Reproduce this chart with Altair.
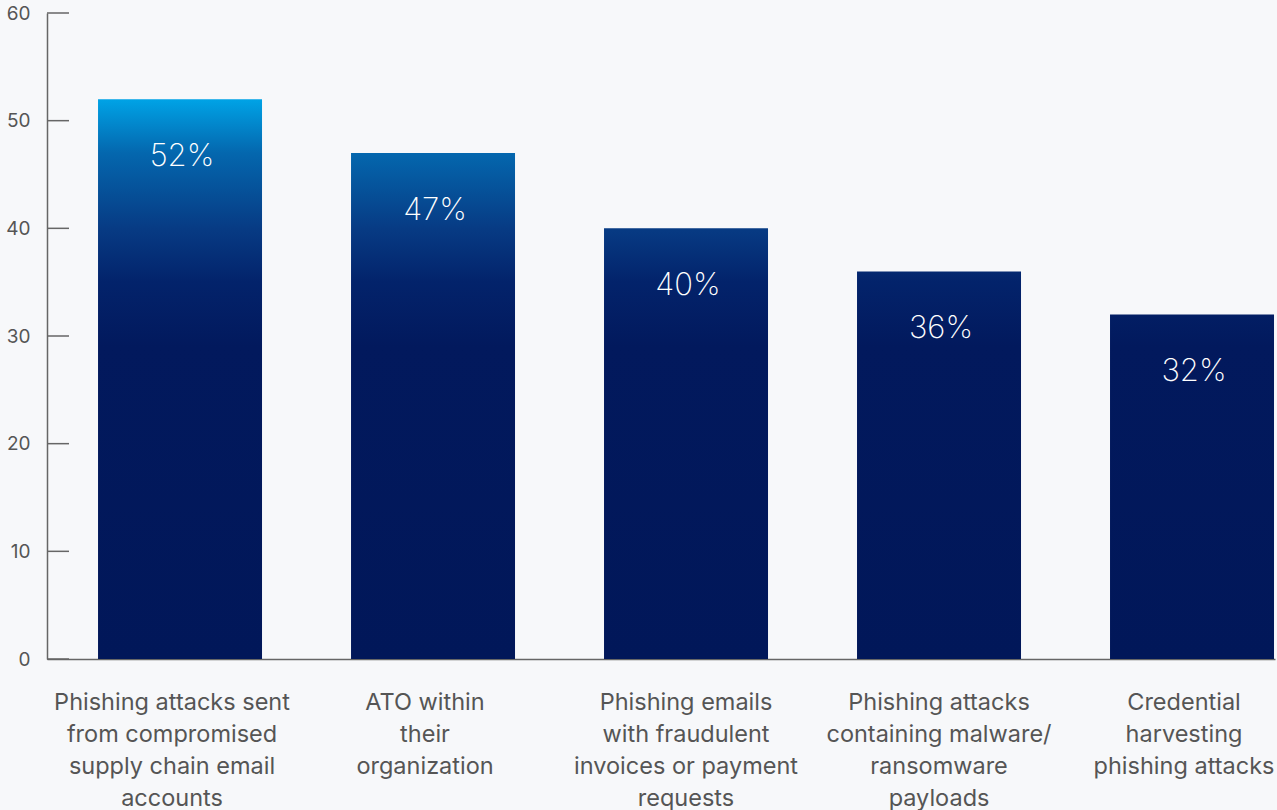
import altair as alt
import pandas as pd

categories = [
    "Phishing attacks sent\nfrom compromised\nsupply chain email\naccounts",
    "ATO within\ntheir\norganization",
    "Phishing emails\nwith fraudulent\ninvoices or payment\nrequests",
    "Phishing attacks\ncontaining malware/\nransomware\npayloads",
    "Credential\nharvesting\nphishing attacks",
]
values = [52, 47, 40, 36, 32]
value_labels = ["52%", "47%", "40%", "36%", "32%"]
y_ticks = [0, 10, 20, 30, 40, 50, 60]

# colour ramp anchored to data values (top of tallest bar -> baseline)
grad_values = [52, 47, 40, 35, 29, 0]
grad_colors = ["#00a3e6", "#0467ae", "#073b84", "#03236b", "#02195d", "#011759"]

df = pd.DataFrame({"cat": categories, "value": values, "label": value_labels})
ticks_df = pd.DataFrame({"value": y_ticks})

top_v = grad_values[0]
stops = [alt.GradientStop(offset=(top_v - u) / top_v, color=c) for u, c in zip(grad_values, grad_colors)]

yscale = alt.Scale(domain=[0, 60], nice=False)
xscale = alt.Scale(paddingInner=0.3518, paddingOuter=0.1028, align=0.981)

shift_test = ("indexof(datum.value, 'Credential') == 0 || "
              "indexof(datum.value, 'Phishing attacks sent') == 0 || "
              "indexof(datum.value, 'ATO') == 0")

x_enc = alt.X(
    "cat:N", sort=categories, scale=xscale,
    axis=alt.Axis(title=None, labelAngle=0, labelExpr="split(datum.label, '\\n')",
                  labelFont="Inter", labelFontSize=23.5, labelColor="#555555",
                  labelLineHeight=32, labelPadding=31, labelBaseline="top",
                  labelOffset={"condition": {"test": shift_test, "value": -8}, "value": 0},
                  ticks=False, domainColor="#666666", domainWidth=1.5, labelLimit=400),
)
y_axis = alt.Axis(title=None, values=y_ticks, ticks=False, grid=False,
                  labelFont="Inter", labelFontSize=19, labelColor="#555555",
                  labelPadding=17, domainColor="#666666", domainWidth=1.5)
y_enc = alt.Y("value:Q", scale=yscale, axis=y_axis)

layers = []
for cat, v in zip(categories, values):
    grad = alt.Gradient(gradient="linear", x1=0, x2=0, y1=(v - top_v) / v, y2=1, stops=stops)
    layers.append(
        alt.Chart(df).transform_filter(alt.datum.cat == cat)
        .mark_bar(color=grad)
        .encode(x=x_enc, y=y_enc)
    )

text = alt.Chart(df).mark_text(
    dy=58, dx=2, baseline="middle", align="center", color="white",
    font="Inter", fontSize=31, fontWeight=200,
).encode(x=x_enc, y=y_enc, text="label:N")

tick_rules = alt.Chart(ticks_df).mark_rule(color="#666666", strokeWidth=1.5).encode(
    y=y_enc, x=alt.value(0), x2=alt.value(22)
)

chart = alt.layer(*layers, text, tick_rules).properties(
    width=1228, height=646,
    padding={"left": 47, "top": 13, "right": 2, "bottom": 151},
    autosize=alt.AutoSizeParams(type="none"),
).configure(background="#f7f8fa").configure_view(stroke=None)

chart.save("out.html", embed_options={"renderer": "svg", "actions": False})
